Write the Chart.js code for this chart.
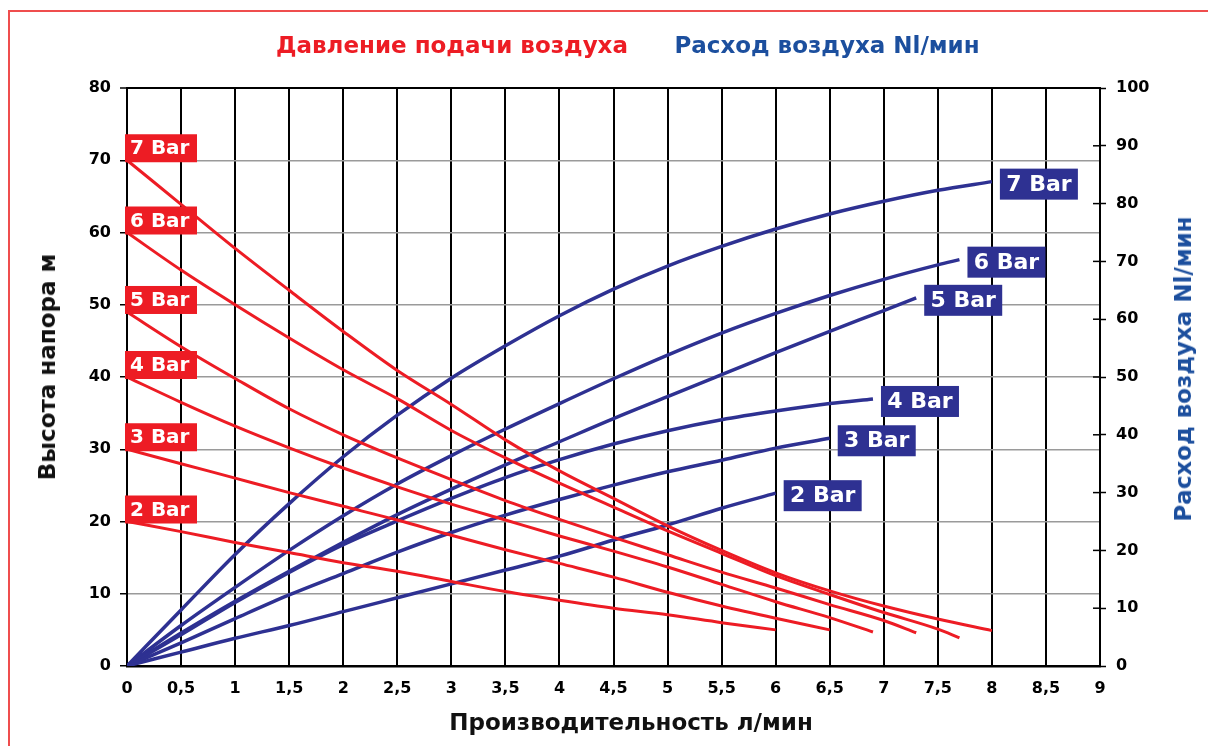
<!DOCTYPE html>
<html>
<head>
<meta charset="utf-8">
<script src="https://cdn.jsdelivr.net/npm/chart.js@4.4.1/dist/chart.umd.min.js"></script>
<style>
html,body{margin:0;padding:0;background:#fff;}
#wrap{position:relative;width:1208px;height:746px;overflow:hidden;font-family:"DejaVu Sans",sans-serif;font-weight:bold;}
#frame{position:absolute;left:8px;top:10px;width:1400px;height:1000px;border-left:2px solid #ef4d4d;border-top:2px solid #ef4d4d;box-sizing:border-box;}
#box{position:absolute;left:0;top:0;width:1208px;height:746px;}
.txt{position:absolute;white-space:nowrap;font-size:23px;line-height:28px;transform:translate(-50%,-50%);}
.rot{transform:translate(-50%,-50%) rotate(-90deg);}
</style>
</head>
<body>
<div id="wrap">
  <div id="frame"></div>
  <div id="box"><canvas id="c"></canvas></div>
  <div class="txt" style="left:452px;top:45px;color:#ed1c24;">Давление подачи воздуха</div>
  <div class="txt" style="left:827px;top:45px;color:#1c4f9e;">Расход воздуха Nl/мин</div>
  <div class="txt rot" style="left:47px;top:367px;color:#111;">Высота напора м</div>
  <div class="txt" style="left:631px;top:722px;color:#111;">Производительность л/мин</div>
  <div class="txt rot" style="left:1183px;top:369px;color:#1c4f9e;">Расход воздуха Nl/мин</div>
</div>
<script>
// ---- data ----
const barLabels = ['2 Bar', '3 Bar', '4 Bar', '5 Bar', '6 Bar', '7 Bar'];

// Head (m) vs flow (l/min) — left axis
const headFlow2 = [0,0.5,1,1.5,2,2.5,3,3.5,4,4.5,5,5.5,6];
const head2     = [20,18.6,17.1,15.7,14.3,13.1,11.7,10.3,9.1,8.0,7.1,6.0,5.0];
const headFlow3 = [0,0.5,1,1.5,2,2.5,3,3.5,4,4.5,5,5.5,6,6.5];
const head3     = [30,28.0,26.0,24.0,22.1,20.2,18.1,16.1,14.2,12.3,10.2,8.3,6.6,5.0];
const headFlow4 = [0,0.5,1,1.5,2,2.5,3,3.5,4,4.5,5,5.5,6,6.5,6.9];
const head4     = [40,36.5,33.2,30.2,27.4,24.8,22.4,20.2,18.0,15.9,13.7,11.3,8.9,6.7,4.7];
const headFlow5 = [0,0.5,1,1.5,2,2.5,3,3.5,4,4.5,5,5.5,6,6.5,7,7.3];
const head5     = [49,44.2,39.8,35.6,32.0,28.8,25.8,22.9,20.3,17.8,15.4,13.0,10.8,8.5,6.3,4.6];
const headFlow6 = [0,0.5,1,1.5,2,2.5,3,3.5,4,4.5,5,5.5,6,6.5,7,7.5,7.7];
const head6     = [60,54.8,50.0,45.4,41.0,37.0,32.6,28.8,25.3,22.0,18.7,15.6,12.5,9.9,7.4,5.1,3.9];
const headFlow7 = [0,0.5,1,1.5,2,2.5,3,3.5,4,4.5,5,5.5,6,6.5,7,7.5,8];
const head7     = [70,63.9,57.8,52.0,46.3,40.9,36.2,31.3,27.0,23.2,19.4,16.0,12.9,10.4,8.3,6.5,4.9];

// Air consumption (Nl/min) vs flow (l/min) — right axis
const airFlow2 = [0,0.5,1,1.5,2,2.5,3,3.5,4,4.5,5,5.5,6];
const air2     = [0,2.4,4.8,7.0,9.4,11.8,14.2,16.6,19.0,21.8,24.4,27.3,29.9];
const airFlow3 = [0,0.5,1,1.5,2,2.5,3,3.5,4,4.5,5,5.5,6,6.5];
const air3     = [0,4.0,8.2,12.3,16.0,19.7,23.1,26.1,28.8,31.3,33.6,35.6,37.7,39.4];
const airFlow4 = [0,0.5,1,1.5,2,2.5,3,3.5,4,4.5,5,5.5,6,6.5,6.9];
const air4     = [0,5.4,11.0,16.2,21.0,25.1,29.0,32.6,35.7,38.4,40.7,42.6,44.1,45.4,46.2];
const airFlow5 = [0,0.5,1,1.5,2,2.5,3,3.5,4,4.5,5,5.5,6,6.5,7,7.3];
const air5     = [0,5.7,11.2,16.4,21.4,26.2,30.6,34.8,38.8,42.8,46.6,50.4,54.2,57.9,61.5,63.7];
const airFlow6 = [0,0.5,1,1.5,2,2.5,3,3.5,4,4.5,5,5.5,6,6.5,7,7.5,7.7];
const air6     = [0,7.0,13.6,20.0,26.0,31.5,36.4,41.0,45.4,49.7,53.8,57.6,61.0,64.1,66.9,69.4,70.3];
const airFlow7 = [0,0.5,1,1.5,2,2.5,3,3.5,4,4.5,5,5.5,6,6.5,7,7.5,8];
const air7     = [0,9.7,19.3,28.1,36.2,43.4,49.8,55.4,60.6,65.2,69.2,72.6,75.6,78.2,80.4,82.3,83.8];

const flowTicks = {min: 0, max: 9, step: 0.5};
const headTicks = {min: 0, max: 80, step: 10};
const airTicks  = {min: 0, max: 100, step: 10};

// ---- build datasets ----
const RED = '#ed1c24', NAVY = '#2e3192';
const FONT = '"DejaVu Sans", sans-serif';
const zip = (xs, ys) => xs.map((x, i) => ({x, y: ys[i]}));
const headSets = [[headFlow2,head2],[headFlow3,head3],[headFlow4,head4],[headFlow5,head5],[headFlow6,head6],[headFlow7,head7]];
const airSets  = [[airFlow2,air2],[airFlow3,air3],[airFlow4,air4],[airFlow5,air5],[airFlow6,air6],[airFlow7,air7]];

const datasets = [];
headSets.forEach((s, i) => datasets.push({
  label: 'Давление ' + barLabels[i], kind: 'head', tag: barLabels[i],
  data: zip(s[0], s[1]), yAxisID: 'y',
  borderColor: RED, borderWidth: 3, pointRadius: 0, cubicInterpolationMode: 'monotone', fill: false
}));
airSets.forEach((s, i) => datasets.push({
  label: 'Расход ' + barLabels[i], kind: 'air', tag: barLabels[i],
  data: zip(s[0], s[1]), yAxisID: 'y2',
  borderColor: NAVY, borderWidth: 3.5, pointRadius: 0, cubicInterpolationMode: 'monotone', fill: false
}));

const tagPlugin = {
  id: 'tags',
  afterDatasetsDraw(chart) {
    const ctx = chart.ctx;
    ctx.save();
    chart.data.datasets.forEach((ds, i) => {
      const meta = chart.getDatasetMeta(i);
      if (ds.kind === 'head') {
        const p = meta.data[0];
        const l = p.x - 2, t = p.y - 26;
        ctx.fillStyle = RED;
        ctx.fillRect(l, t, 72, 28);
        ctx.fillStyle = '#fff';
        ctx.font = 'bold 20px ' + FONT;
        ctx.textAlign = 'left'; ctx.textBaseline = 'middle';
        ctx.fillText(ds.tag, l + 5, t + 15);
      } else {
        const p = meta.data[meta.data.length - 1];
        const l = p.x + 8, t = p.y - 13;
        ctx.fillStyle = NAVY;
        ctx.fillRect(l, t, 78, 31);
        ctx.fillStyle = '#fff';
        ctx.font = 'bold 22px ' + FONT;
        ctx.textAlign = 'center'; ctx.textBaseline = 'middle';
        ctx.fillText(ds.tag, l + 39, t + 16.5);
      }
    });
    // inner half of the right-axis tick marks
    const s = chart.scales.y2;
    ctx.strokeStyle = '#000'; ctx.lineWidth = 1.5;
    s.ticks.forEach(tk => {
      const y = s.getPixelForValue(tk.value);
      ctx.beginPath(); ctx.moveTo(s.left - 7, y); ctx.lineTo(s.left, y); ctx.stroke();
    });
    ctx.restore();
  }
};

new Chart(document.getElementById('c'), {
  type: 'line',
  data: {datasets},
  options: {
    responsive: true, maintainAspectRatio: false, animation: false,
    layout: {padding: {top: 88, left: 0, right: 0, bottom: 0}},
    plugins: {legend: {display: false}, tooltip: {enabled: false}},
    scales: {
      x: {
        type: 'linear', min: flowTicks.min, max: flowTicks.max,
        afterFit: s => { s.height = 80; },
        grid: {color: '#000', lineWidth: 2, drawTicks: false},
        border: {color: '#000', width: 2.5},
        ticks: {stepSize: flowTicks.step, padding: 13, color: '#000',
          font: {family: FONT, weight: 'bold', size: 16},
          callback: v => String(v).replace('.', ',')}
      },
      y: {
        position: 'left', min: headTicks.min, max: headTicks.max,
        afterFit: s => { s.width = 127; },
        grid: {color: c => (c.tick && c.tick.value === headTicks.max) ? '#000' : '#9a9a9a',
               lineWidth: c => (c.tick && c.tick.value === headTicks.max) ? 2 : 1.5,
               tickLength: 7, tickColor: '#000', tickWidth: 1.5},
        border: {color: '#000', width: 2},
        ticks: {stepSize: headTicks.step, padding: 9, color: '#000',
          font: {family: FONT, weight: 'bold', size: 16}}
      },
      y2: {
        position: 'right', min: airTicks.min, max: airTicks.max,
        afterFit: s => { s.width = 108; },
        grid: {drawOnChartArea: false, tickLength: 6, tickColor: '#000', tickWidth: 1.5},
        border: {color: '#000', width: 2},
        ticks: {stepSize: airTicks.step, padding: 10, color: '#000',
          font: {family: FONT, weight: 'bold', size: 16}}
      }
    }
  },
  plugins: [tagPlugin]
});
</script>
</body>
</html>
